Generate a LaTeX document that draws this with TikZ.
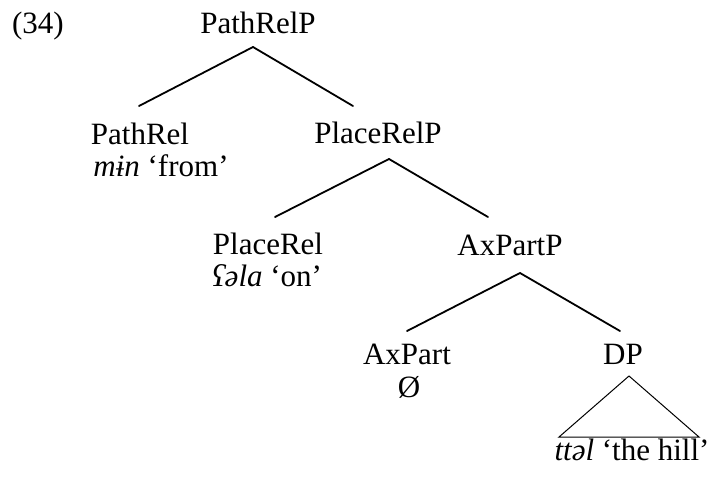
\documentclass[tikz,border=0pt]{standalone}
\usepackage{fontspec}
\setmainfont{Liberation Serif}
\usetikzlibrary{calc}
\begin{document}
\begin{tikzpicture}[x=1pt,y=-1pt,
  cat/.style={anchor=base,inner sep=0pt,font=\fontsize{31}{37}\selectfont},
  branch/.style={line width=1.8pt,line cap=round,line join=round},
  roof/.style={line width=1pt,line join=miter}]
\useasboundingbox (0,0) rectangle (712,479);

% example number
\node[cat] (ex) at (38,33) {(34)};

% category labels and glosses
\node[cat] (PathRelP)  at (258,33)  {PathRelP};
\node[cat] (PathRel)   at (140,144) {PathRel};
\node[cat] (PathRelG)  at (161,176) {\textit{mɨn} ‘from’};
\node[cat] (PlaceRelP) at (378,143) {PlaceRelP};
\node[cat] (PlaceRel)  at (268,254) {PlaceRel};
\node[cat] (PlaceRelG) at (267,286) {\textit{ʕəla} ‘on’};
\node[cat] (AxPartP)   at (510,255) {AxPartP};
\node[cat] (AxPart)    at (407,364) {AxPart};
\node[cat] (AxPartG)   at (409,397) {Ø};
\node[cat] (DP)        at (623,364) {DP};
\node[cat] (DPG)       at (632,460) {\textit{ttəl} ‘the hill’};

% attachment points of the branches
\coordinate (PathRelP-f)  at ($(PathRelP.base)+(-5,14)$);
\coordinate (PathRel-h)   at ($(PathRel.base)+(-1,-38)$);
\coordinate (PlaceRelP-h) at ($(PlaceRelP.base)+(-25,-37)$);
\coordinate (PlaceRelP-f) at ($(PlaceRelP.base)+(11,16)$);
\coordinate (PlaceRel-h)  at ($(PlaceRel.base)+(7,-37)$);
\coordinate (AxPartP-h)   at ($(AxPartP.base)+(-22,-38)$);
\coordinate (AxPartP-f)   at ($(AxPartP.base)+(10,18)$);
\coordinate (AxPart-h)    at ($(AxPart.base)+(0,-33)$);
\coordinate (DP-h)        at ($(DP.base)+(-3,-33)$);
\coordinate (DP-f)        at ($(DP.base)+(6,12)$);

% branches
\draw[branch] (PathRel-h) -- (PathRelP-f) -- (PlaceRelP-h);
\draw[branch] (PlaceRel-h) -- (PlaceRelP-f) -- (AxPartP-h);
\draw[branch] (AxPart-h) -- (AxPartP-f) -- (DP-h);

% triangle over the DP
\draw[roof] (DP-f) -- ($(DP-f)+(-70,61)$) -- ($(DP-f)+(70,61)$) -- cycle;
\end{tikzpicture}
\end{document}
